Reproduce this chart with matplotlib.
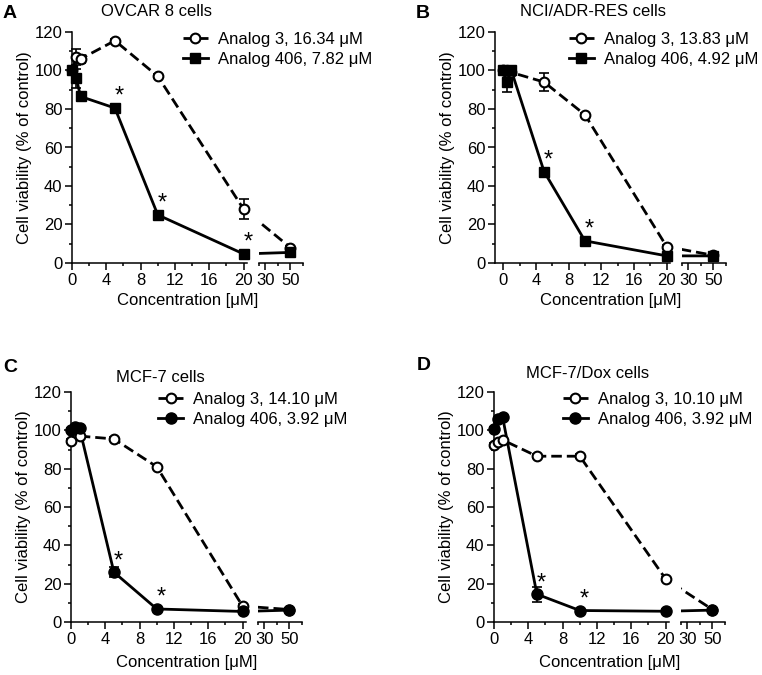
import numpy as np
import matplotlib
matplotlib.use('Agg')
import matplotlib.pyplot as plt
from matplotlib.lines import Line2D
from matplotlib.patches import Rectangle

plt.rcParams['font.family'] = ['Liberation Sans', 'DejaVu Sans']
plt.rcParams['font.size'] = 12

# concentrations [uM], same for every panel
conc = [0, 0.5, 1, 5, 10, 20, 50]

# A - OVCAR 8
a_analog3 = [100, 107, 106, 115.5, 97, 28, 8]
a_analog3_err = [0, 4, 2, 1, 1, 5, 1]
a_analog406 = [100, 96, 86.5, 80.5, 25, 4.7, 5.5]
a_analog406_err = [2, 5, 1, 1, 1, 1, 1]
a_stars = [3, 4, 5]

# B - NCI/ADR-RES
b_analog3 = [100, 99, 99, 94, 77, 8.5, 4]
b_analog3_err = [0, 1, 1, 4.5, 1, 1, 1]
b_analog406 = [100, 94, 100, 47.5, 11.5, 3.7, 3.7]
b_analog406_err = [1, 5, 1, 1, 1, 1, 1]
b_stars = [3, 4]

# C - MCF-7
c_analog3 = [94.5, 99, 97, 95.5, 81, 8.3, 6.5]
c_analog3_err = [1, 1, 1, 1, 1, 1, 1]
c_analog406 = [100, 102, 101, 26, 6.8, 5.5, 6.2]
c_analog406_err = [1, 1, 1, 2.5, 1, 1, 1]
c_stars = [3, 4]

# D - MCF-7/Dox
d_analog3 = [92.5, 94, 95, 86.5, 86.5, 22.5, 6.5]
d_analog3_err = [1, 1, 1, 1, 1, 1, 1]
d_analog406 = [100.5, 106, 107, 14.5, 6, 5.6, 6.2]
d_analog406_err = [1, 1, 1, 4, 1, 1, 1]
d_stars = [3, 4]

letters = ['A', 'B', 'C', 'D']
titles = ['OVCAR 8 cells', 'NCI/ADR-RES cells', 'MCF-7 cells', 'MCF-7/Dox cells']
ic50_analog3 = ['16.34', '13.83', '14.10', '10.10']
ic50_analog406 = ['7.82', '4.92', '3.92', '3.92']
marker406 = ['s', 's', 'o', 'o']
x_lo = [0, -1, 0, 0]

xticks = [0, 4, 8, 12, 16, 20, 30, 50]
xminor = [2, 6, 10, 14, 18, 25, 40, 60]

# broken x axis, widths in pixels
SEG1_END, SEG1_W, GAP = 20.4, 175, 12
SEG2_LO, SEG2_HI, SEG2_W = 25, 60, 44
TOTAL = SEG1_W + GAP + SEG2_W


def to_u(x, lo):
    x = np.asarray(x, dtype=float)
    seg1 = (x - lo) / (SEG1_END - lo) * SEG1_W
    seg2 = SEG1_W + GAP + (x - SEG2_LO) / (SEG2_HI - SEG2_LO) * SEG2_W
    return np.where(x <= SEG1_END, seg1, seg2)


W, H = 762, 675
fig = plt.figure(figsize=(W / 100, H / 100), dpi=100)

rects = [(72, 32, 263), (495, 32, 263), (71, 392, 622), (494, 392, 622)]
title_pos = [(0.364, 1.087), (0.424, 1.087), (0.385, 1.065), (0.405, 1.082)]
letter_pos = [(3, 13), (416, 13), (3, 367), (417, 365)]
legend_x = [0.479, 0.32, 0.377, 0.297]
xlabel_y = [-0.128, -0.128, -0.143, -0.143]

data = [
    (a_analog3, a_analog3_err, a_analog406, a_analog406_err, a_stars),
    (b_analog3, b_analog3_err, b_analog406, b_analog406_err, b_stars),
    (c_analog3, c_analog3_err, c_analog406, c_analog406_err, c_stars),
    (d_analog3, d_analog3_err, d_analog406, d_analog406_err, d_stars),
]

dashed = (0, (3.8, 1.8))

for i, (v3, e3, v406, e406, stars) in enumerate(data):
    left, top, bottom = rects[i]
    ax = fig.add_axes([left / W, 1 - bottom / H, TOTAL / W, (bottom - top) / H])
    lo = x_lo[i]
    u = to_u(conc, lo)

    # lines are cut at the axis break
    clips = [Rectangle((0, -100), SEG1_W, 400, transform=ax.transData),
             Rectangle((SEG1_W + GAP, -100), SEG2_W, 400, transform=ax.transData)]
    for vals, ls in ((v3, dashed), (v406, '-')):
        for clip in clips:
            ln, = ax.plot(u, vals, color='k', lw=2, ls=ls, zorder=2)
            ln.set_clip_path(clip)

    for vals, err in ((v3, e3), (v406, e406)):
        eb = ax.errorbar(u, vals, yerr=err, fmt='none', ecolor='k', elinewidth=1.2,
                         capsize=3.5, capthick=1.2, zorder=2.5)
        for art in eb.lines[1] + eb.lines[2]:
            art.set_clip_on(False)

    ax.plot(u, v3, ls='none', marker='o', ms=7, mfc='white', mec='k', mew=1.5,
            clip_on=False, zorder=4)
    ms406 = 7.5 if marker406[i] == 's' else 8
    ax.plot(u, v406, ls='none', marker=marker406[i], ms=ms406, mfc='k', mec='k',
            clip_on=False, zorder=5)

    for k in stars:
        ax.annotate('*', (u[k], v406[k]), xytext=(3, 8), textcoords='offset points',
                    ha='center', va='center', fontsize=17)

    # axes look
    ax.set_xlim(0, TOTAL)
    ax.set_ylim(0, 120)
    for s in ['top', 'right', 'bottom']:
        ax.spines[s].set_visible(False)
    ax.spines['left'].set_linewidth(1.1)
    ax.plot([0, SEG1_W], [0, 0], color='k', lw=1.1, clip_on=False, zorder=1)
    ax.plot([SEG1_W + GAP, TOTAL], [0, 0], color='k', lw=1.1, clip_on=False, zorder=1)

    ax.set_xticks(to_u(xticks, lo))
    ax.set_xticklabels([str(t) for t in xticks])
    ax.set_xticks(to_u(xminor, lo), minor=True)
    ax.set_yticks(range(0, 121, 20))
    ax.set_yticks(range(10, 120, 20), minor=True)
    ax.tick_params(which='major', length=5, width=1.1, pad=2, labelsize=12)
    ax.tick_params(which='minor', length=2.5, width=1.1)

    ax.set_ylabel('Cell viability (% of control)', fontsize=12)
    ax.yaxis.set_label_coords(-0.175, 0.5)
    ax.set_xlabel('Concentration [μM]', fontsize=12)
    ax.xaxis.set_label_coords(0.5, xlabel_y[i])

    ax.text(title_pos[i][0], title_pos[i][1], titles[i], transform=ax.transAxes,
            ha='center', va='center', fontsize=12)
    fig.text(letter_pos[i][0] / W, 1 - letter_pos[i][1] / H, letters[i],
             fontweight='bold', fontsize=14, ha='left', va='center')

    handles = [
        Line2D([], [], color='k', lw=2, ls=dashed, marker='o', ms=7, mfc='white',
               mec='k', mew=1.5),
        Line2D([], [], color='k', lw=2, ls='-', marker=marker406[i], ms=ms406,
               mfc='k', mec='k'),
    ]
    labels = [f'Analog 3, {ic50_analog3[i]} μM', f'Analog 406, {ic50_analog406[i]} μM']
    ax.legend(handles, labels, loc='upper left', bbox_to_anchor=(legend_x[i], 1.0),
              frameon=False, borderpad=0, borderaxespad=0, handlelength=1.5,
              handletextpad=0.6, labelspacing=0.3, fontsize=12)

fig.savefig('out.png', dpi=100)
